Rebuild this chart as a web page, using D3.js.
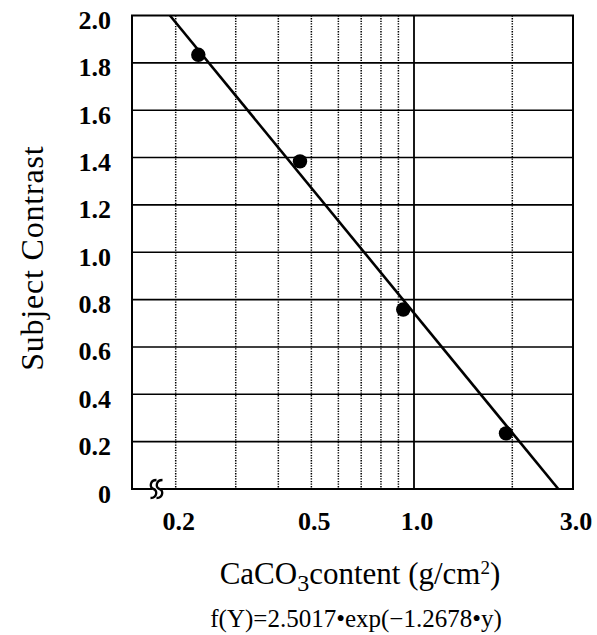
<!DOCTYPE html>
<html>
<head>
<meta charset="utf-8">
<script src="https://cdn.jsdelivr.net/npm/d3@7"></script>
<style>
  body { margin: 0; background: #fff; }
  svg text { fill: #000; }
</style>
</head>
<body>
<div id="chart"></div>
<script>
// measured points (CaCO3 content g/cm2 vs subject contrast)
var contentX = [0.233, 0.463, 0.930, 1.913];
var contrastY = [1.834, 1.384, 0.758, 0.235];

// regression line ends
var fitX = [0.1924, 2.72];
var fitY = [2.0, 0.0];

// grid + ticks
var yTicks = [0, 0.2, 0.4, 0.6, 0.8, 1.0, 1.2, 1.4, 1.6, 1.8, 2.0];
var yTickLabels = ['0', '0.2', '0.4', '0.6', '0.8', '1.0', '1.2', '1.4', '1.6', '1.8', '2.0'];
var xGridDotted = [0.2, 0.3, 0.4, 0.5, 0.6, 0.7, 0.8, 0.9, 2.0];
var xGridSolid = [1.0];
var xTicks = [0.2, 0.5, 1.0, 3.0];
var xTickLabels = ['0.2', '0.5', '1.0', '3.0'];
var formulaText = 'f(Y)=2.5017\u2022exp(\u22121.2678\u2022y)';

var width = 597,
    height = 635,
    margin = {top: 15.5, right: 24, bottom: 146, left: 132},
    w = width - margin.left - margin.right,
    h = height - margin.top - margin.bottom;

// the printed log axis is a bit uneven, so the log scale is piecewise
var x = d3.scaleLog()
    .domain([0.149, 0.2, 1.0, 2.0, 3.0])
    .range([0, 43.7, 282, 380.3, w]);
var y = d3.scaleLinear().domain([0, 2.0]).range([h, 0]);

var svg = d3.select('#chart').append('svg')
    .attr('width', width)
    .attr('height', height);

var g = svg.append('g')
    .attr('transform', 'translate(' + margin.left + ',' + margin.top + ')');

var serif = 'Liberation Serif';

// horizontal grid
g.append('g').selectAll('line')
    .data(yTicks.slice(1, -1))
    .enter().append('line')
    .attr('x1', 0).attr('x2', w)
    .attr('y1', function(d) { return y(d); })
    .attr('y2', function(d) { return y(d); })
    .attr('stroke', '#000')
    .attr('stroke-width', 1.6);

// vertical grid
g.append('g').selectAll('line')
    .data(xGridDotted)
    .enter().append('line')
    .attr('x1', function(d) { return x(d); })
    .attr('x2', function(d) { return x(d); })
    .attr('y1', 0).attr('y2', h)
    .attr('stroke', '#000')
    .attr('stroke-width', 1.5)
    .attr('stroke-dasharray', '1.3,1.3');

g.append('g').selectAll('line')
    .data(xGridSolid)
    .enter().append('line')
    .attr('x1', function(d) { return x(d); })
    .attr('x2', function(d) { return x(d); })
    .attr('y1', 0).attr('y2', h)
    .attr('stroke', '#000')
    .attr('stroke-width', 1.8);

// frame
g.append('rect')
    .attr('x', 0).attr('y', 0)
    .attr('width', w).attr('height', h)
    .attr('fill', 'none')
    .attr('stroke', '#000')
    .attr('stroke-width', 2);

// axis break on the x axis
var brk = g.append('g').attr('transform', 'translate(24.5,' + h + ')');
brk.append('rect')
    .attr('x', -4).attr('y', -2)
    .attr('width', 8).attr('height', 4)
    .attr('fill', '#fff');
[-3, 3].forEach(function(dx) {
  brk.append('path')
      .attr('d', 'M' + (dx + 3) + ',-9 C' + (dx - 4) + ',-9 ' + (dx - 4) + ',-1 ' + dx + ',0' +
                 ' C' + (dx + 4) + ',1 ' + (dx + 4) + ',9 ' + (dx - 3) + ',9')
      .attr('fill', 'none')
      .attr('stroke', '#000')
      .attr('stroke-width', 2.4);
});

// y tick labels
g.append('g').selectAll('text')
    .data(yTicks)
    .enter().append('text')
    .attr('x', -21)
    .attr('y', function(d) { return y(d) + 13.5; })
    .attr('text-anchor', 'end')
    .style('font-family', serif)
    .style('font-weight', 'bold')
    .style('font-size', '26px')
    .text(function(d, i) { return yTickLabels[i]; });

// x tick labels
g.append('g').selectAll('text')
    .data(xTicks)
    .enter().append('text')
    .attr('x', function(d) { return x(d) + 3; })
    .attr('y', h + 41)
    .attr('text-anchor', 'middle')
    .style('font-family', serif)
    .style('font-weight', 'bold')
    .style('font-size', '26px')
    .text(function(d, i) { return xTickLabels[i]; });

// regression line
var line = d3.line()
    .x(function(d) { return x(d[0]); })
    .y(function(d) { return y(d[1]); });

g.append('path')
    .datum(d3.zip(fitX, fitY))
    .attr('d', line)
    .attr('fill', 'none')
    .attr('stroke', '#000')
    .attr('stroke-width', 2.6);

// points
g.append('g').selectAll('circle')
    .data(d3.zip(contentX, contrastY))
    .enter().append('circle')
    .attr('cx', function(d) { return x(d[0]); })
    .attr('cy', function(d) { return y(d[1]); })
    .attr('r', 7.2)
    .attr('fill', '#000');

// axis titles
svg.append('text')
    .attr('transform', 'translate(43,' + (margin.top + h / 2 + 6) + ') rotate(-90)')
    .attr('text-anchor', 'middle')
    .style('font-family', serif)
    .style('font-size', '32px')
    .style('letter-spacing', '0.8px')
    .text('Subject Contrast');

var xt = svg.append('text')
    .attr('x', 360)
    .attr('y', 584)
    .attr('text-anchor', 'middle')
    .style('font-family', serif)
    .style('font-size', '31px');
xt.append('tspan').text('CaCO');
xt.append('tspan').attr('dy', 7).style('font-size', '24px').text('3');
xt.append('tspan').attr('dy', -7).text('content (g/cm');
xt.append('tspan').attr('dy', -10).style('font-size', '19px').text('2');
xt.append('tspan').attr('dy', 10).text(')');

svg.append('text')
    .attr('x', 356)
    .attr('y', 627)
    .attr('text-anchor', 'middle')
    .style('font-family', serif)
    .style('font-size', '25px')
    .text(formulaText);
</script>
</body>
</html>
